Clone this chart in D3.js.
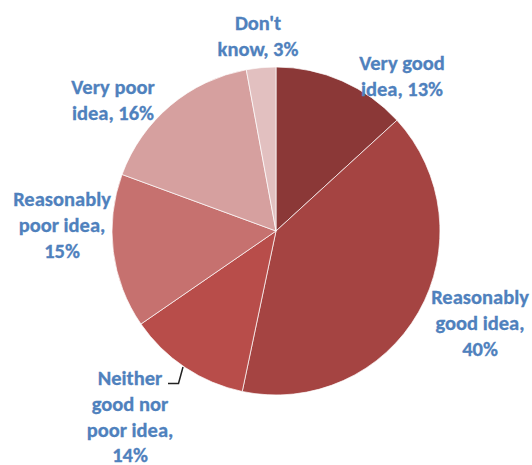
<!DOCTYPE html>
<html>
<head>
<meta charset="utf-8">
<script src="https://cdn.jsdelivr.net/npm/d3@7"></script>
<style>
body { margin: 0; background: #fff; }
</style>
</head>
<body>
<script>
// slice shares as drawn, clockwise from 12 o'clock
var categories = ["Very good idea", "Reasonably good idea", "Neither good nor poor idea", "Reasonably poor idea", "Very poor idea", "Don't know"];
var values = [13.2, 40.1, 12.1, 15.2, 16.5, 2.9];
var colors = ["#8b3837", "#a54442", "#b84d4a", "#c6716f", "#d6a09f", "#e2c0c0"];

// label text as printed on the chart (one entry per line)
var labelLines = [
	["Very good", "idea, 13%"],
	["Reasonably", "good idea,", "40%"],
	["Neither", "good nor", "poor idea,", "14%"],
	["Reasonably", "poor idea,", "15%"],
	["Very poor", "idea, 16%"],
	["Don't", "know, 3%"]
];
var labelPos = [[402, 70], [480, 304], [130, 385], [62, 206], [113, 94], [258, 30]];

function main(){
	var w = 532;
	var h = 465;
	var cx = 276, cy = 231, r = 164;

	var svg = d3.select("body")
				.append("svg")
				.attr("width", w)
				.attr("height", h);

	var pie = d3.pie().sort(null).value(function(d){ return d; });
	var arc = d3.arc().innerRadius(0).outerRadius(r);

	var g = svg.append("g").attr("transform", "translate(" + cx + "," + cy + ")");

	g.selectAll("path")
		.data(pie(values))
		.enter()
		.append("path")
		.attr("d", arc)
		.attr("fill", function(d, i){ return colors[i]; })
		.attr("stroke", "#ffffff")
		.attr("stroke-width", 0.7);

	// leader line for the "Neither" label
	svg.append("path")
		.attr("d", "M168,383.5 L178.5,383.5 L183,367")
		.attr("fill", "none")
		.attr("stroke", "#222")
		.attr("stroke-width", 1.5);

	var labels = svg.selectAll(".lbl")
		.data(categories)
		.enter()
		.append("text")
		.attr("class", "lbl")
		.attr("text-anchor", "middle")
		.attr("font-family", "Calibri, Carlito, Lato, sans-serif")
		.attr("font-weight", "bold")
		.attr("font-size", 20.5)
		.attr("fill", "#4f81bd")
		.attr("stroke", "#4f81bd")
		.attr("stroke-width", 0.3);

	labels.each(function(d, i){
		var t = d3.select(this);
		labelLines[i].forEach(function(line, j){
			t.append("tspan")
				.attr("x", labelPos[i][0])
				.attr("y", labelPos[i][1] + j * 25.8)
				.text(line);
		});
	});
}

main();
</script>
</body>
</html>
